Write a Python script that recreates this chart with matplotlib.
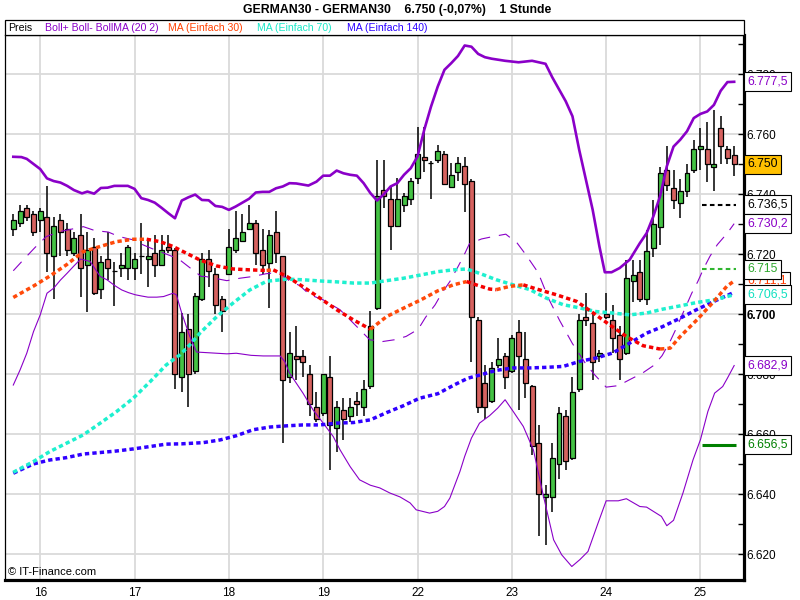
import numpy as np
import matplotlib
matplotlib.use("Agg")
import matplotlib.pyplot as plt
from matplotlib.patches import Rectangle
from matplotlib.transforms import blended_transform_factory

plt.rcParams['font.family'] = ['Liberation Sans', 'DejaVu Sans']

# hourly candles, bar 0 is the first one shown
opens = [6728.4, 6730.4, 6735.4, 6733.4, 6731.4, 6732.4, 6719.4, 6731.4, 6728.4, 6720.4,
         6726.4, 6716.4, 6722.4, 6708.4, 6718.4, 6714.5, 6715.4, 6715.4, 6715.4, 6719.4,
         6718.4, 6720.4, 6716.4, 6722.4, 6721.4, 6679.0, 6695.0, 6681.0, 6705.0, 6718.4,
         6713.4, 6705.1, 6713.4, 6721.4, 6724.4, 6728.4, 6730.4, 6721.4, 6717.2, 6727.4,
         6719.4, 6679.0, 6686.0, 6686.0, 6680.0, 6669.0, 6667.0, 6679.0, 6662.0, 6668.0,
         6666.0, 6671.0, 6669.0, 6676.0, 6702.0, 6741.4, 6738.4, 6729.4, 6736.4, 6738.4,
         6745.4, 6752.5, 6750.4, 6751.4, 6753.4, 6742.4, 6747.4, 6749.4, 6744.4, 6698.0,
         6677.0, 6671.0, 6683.0, 6686.0, 6681.0, 6694.0, 6685.0, 6676.0, 6657.0, 6639.0,
         6639.0, 6650.0, 6666.0, 6652.0, 6675.0, 6699.0, 6697.0, 6686.0, 6700.0, 6698.0,
         6693.0, 6687.0, 6711.0, 6714.0, 6705.0, 6722.0, 6729.0, 6748.0, 6742.0, 6737.0,
         6741.0, 6748.0, 6755.0, 6755.0, 6749.0, 6762.0, 6755.0, 6753.0]
highs = [6733.5, 6736.5, 6736.5, 6734.4, 6735.4, 6742.6, 6732.4, 6733.4, 6730.4, 6727.4,
         6733.4, 6727.4, 6725.4, 6719.4, 6727.4, 6717.4, 6720.4, 6723.0, 6720.4, 6730.4,
         6725.4, 6726.4, 6726.4, 6726.4, 6722.0, 6700.4, 6700.0, 6707.0, 6720.4, 6721.4,
         6715.4, 6706.0, 6728.4, 6734.4, 6733.4, 6736.4, 6731.4, 6728.4, 6728.0, 6734.5,
         6719.4, 6694.0, 6696.0, 6688.0, 6683.0, 6674.0, 6680.0, 6686.0, 6671.0, 6672.0,
         6672.0, 6674.0, 6678.0, 6701.0, 6751.5, 6751.5, 6742.6, 6745.4, 6740.5, 6745.4,
         6762.5, 6762.5, 6751.0, 6756.4, 6754.4, 6750.4, 6752.4, 6752.4, 6745.0, 6699.0,
         6683.0, 6684.0, 6692.0, 6687.0, 6693.0, 6698.0, 6694.0, 6676.5, 6663.0, 6643.0,
         6657.0, 6669.0, 6668.0, 6679.0, 6700.0, 6707.0, 6700.0, 6688.0, 6707.0, 6703.0,
         6696.0, 6718.0, 6718.0, 6718.0, 6728.0, 6738.0, 6749.0, 6756.0, 6748.0, 6745.0,
         6750.0, 6758.0, 6762.0, 6764.0, 6768.0, 6766.0, 6756.0, 6756.0]
lows = [6726.2, 6729.2, 6731.2, 6726.2, 6727.4, 6714.2, 6705.0, 6719.4, 6719.4, 6719.4,
        6705.9, 6700.9, 6706.5, 6705.0, 6711.4, 6702.9, 6712.4, 6711.4, 6711.4, 6713.4,
        6709.2, 6712.4, 6716.0, 6720.4, 6675.0, 6674.0, 6669.0, 6680.0, 6704.5, 6709.2,
        6700.0, 6694.0, 6713.0, 6720.4, 6724.0, 6728.0, 6716.4, 6713.4, 6702.0, 6717.2,
        6657.0, 6677.0, 6678.0, 6679.0, 6666.0, 6664.0, 6666.0, 6648.0, 6654.0, 6658.0,
        6664.0, 6666.0, 6666.0, 6675.0, 6701.5, 6735.4, 6721.4, 6729.0, 6734.2, 6736.4,
        6743.5, 6747.5, 6738.4, 6750.4, 6743.0, 6742.0, 6744.4, 6734.2, 6684.0, 6667.0,
        6665.0, 6670.5, 6682.0, 6675.0, 6680.5, 6668.0, 6672.0, 6653.0, 6626.0, 6623.0,
        6634.0, 6645.0, 6648.0, 6651.5, 6674.0, 6696.0, 6678.0, 6684.0, 6698.5, 6687.0,
        6678.0, 6686.5, 6704.0, 6704.0, 6703.0, 6719.0, 6723.0, 6741.0, 6735.0, 6732.0,
        6739.0, 6747.0, 6748.0, 6744.0, 6741.0, 6750.0, 6750.0, 6746.0]
closes = [6731.4, 6734.4, 6732.4, 6727.4, 6734.4, 6720.4, 6729.4, 6727.4, 6721.4, 6725.4,
          6715.4, 6721.4, 6707.0, 6717.4, 6715.4, 6714.5, 6716.4, 6722.4, 6718.4, 6719.4,
          6719.4, 6716.4, 6721.4, 6721.4, 6680.1, 6694.0, 6680.0, 6706.0, 6718.4, 6714.4,
          6703.0, 6701.0, 6722.4, 6725.4, 6727.4, 6730.4, 6720.4, 6716.4, 6726.5, 6720.4,
          6678.0, 6687.0, 6685.0, 6684.0, 6670.0, 6665.0, 6680.0, 6663.0, 6669.0, 6665.0,
          6669.0, 6670.0, 6675.0, 6696.0, 6739.5, 6739.5, 6729.4, 6738.4, 6739.5, 6744.4,
          6753.4, 6751.5, 6750.4, 6754.4, 6743.4, 6746.4, 6750.4, 6743.4, 6699.0, 6669.0,
          6669.0, 6682.0, 6685.0, 6679.0, 6692.0, 6686.0, 6677.0, 6656.0, 6640.0, 6640.0,
          6652.0, 6667.0, 6651.0, 6674.0, 6698.0, 6698.0, 6684.0, 6687.0, 6699.0, 6692.0,
          6685.0, 6712.0, 6713.0, 6705.0, 6721.0, 6730.0, 6747.0, 6743.0, 6738.0, 6741.0,
          6747.0, 6755.0, 6756.0, 6750.0, 6750.0, 6756.0, 6752.0, 6750.0]

# first bar of each day
day_start = [4, 18, 32, 46, 60, 74, 88, 102]
day_labels = ['16', '17', '18', '19', '22', '23', '24', '25']

# Bollinger bands (20, 2)
boll_up_x = [0, 1.2, 2, 3, 4, 5, 6, 7, 8, 9, 10.2, 11, 12, 13, 14, 15, 17, 18, 19, 20,
             21, 22, 23, 24, 25, 26, 27, 28, 29, 30, 31, 32, 33, 34, 35, 36, 37, 38, 39, 40,
             41, 42, 43.8, 45, 46, 47, 48, 49, 50, 51, 52, 53, 54, 55, 56, 57, 58, 59, 60, 61,
             62, 63, 64, 65, 66, 67, 68, 69, 70, 71, 73, 75, 77, 79, 80, 81, 82, 83, 84, 85,
             86, 87, 87.8, 88.8, 90, 91.5, 93, 94, 95, 96, 97, 98, 99, 100, 101, 102, 103, 104,
             105, 106, 107]
boll_up = [6752.5, 6752.4, 6751.8, 6750.1, 6748.4, 6745.3, 6744.4, 6743.9, 6742.8, 6741.4,
           6740.3, 6740.9, 6740.2, 6742.1, 6742.2, 6742.8, 6742.8, 6741.8, 6738.7, 6738.1,
           6737.2, 6735.5, 6733.7, 6732.0, 6737.9, 6739.0, 6739.9, 6738.1, 6738.0, 6736.1,
           6735.8, 6734.8, 6735.9, 6737.2, 6738.5, 6740.6, 6740.8, 6740.8, 6742.0, 6742.6,
           6743.7, 6743.6, 6742.9, 6744.2, 6746.2, 6746.2, 6747.9, 6747.0, 6746.5, 6746.2,
           6743.7, 6740.4, 6737.9, 6740.0, 6742.6, 6743.7, 6746.5, 6748.7, 6752.6, 6761.5,
           6769.2, 6775.9, 6781.5, 6783.7, 6786.1, 6789.6, 6789.2, 6786.8, 6785.7, 6785.2,
           6784.5, 6784.0, 6784.5, 6783.5, 6779.0, 6775.0, 6771.0, 6766.0, 6754.8, 6744.8,
           6734.8, 6722.6, 6714.0, 6714.0, 6715.4, 6718.2, 6723.7, 6727.0, 6732.6, 6739.3,
           6749.3, 6755.9, 6758.2, 6761.0, 6765.4, 6766.8, 6767.6, 6769.8, 6774.5, 6777.4,
           6777.5]
boll_lo_x = [0, 1, 2, 3, 4, 5, 6, 7, 8, 9, 10, 11.4, 12.9, 13.9, 15.1, 16.1, 17.1, 18.1, 19,
             20, 21.3, 22.3, 23.7, 24.2, 25, 26.2, 27.2, 28.7, 30.2, 31.7, 33.1, 35.3, 37.1,
             39.6, 40.3, 41, 43, 44.5, 46, 47.5, 48.5, 50, 51.4, 53, 54.4, 55.9, 57.4, 58.9,
             59.8, 61.8, 63, 64, 64.8, 66.3, 67, 68, 69.2, 70.7, 71.9, 73, 74.2, 75.7, 77.2,
             78.7, 80.2, 81.4, 82.9, 84.1, 85.3, 86.8, 88, 89.8, 91, 93, 94, 96.2, 97, 98,
             99.4, 100.9, 102, 103.1, 104.1, 105.3, 106, 107]
boll_lo = [6676.4, 6681.4, 6687.0, 6694.2, 6699.8, 6707.0, 6708.7, 6711.4, 6713.7, 6716.1,
           6718.4, 6717.6, 6712.6, 6711.5, 6709.5, 6708.1, 6707.2, 6706.5, 6706.1, 6705.7,
           6705.7, 6705.9, 6707.0, 6706.5, 6700.4, 6692.6, 6687.4, 6687.2, 6687.0, 6686.8,
           6687.0, 6686.3, 6686.1, 6686.1, 6684.2, 6680.4, 6673.7, 6668.1, 6663.7, 6659.2,
           6654.8, 6649.2, 6644.8, 6643.0, 6642.1, 6640.4, 6639.1, 6637.1, 6634.8, 6633.7,
           6634.3, 6635.9, 6638.7, 6647.6, 6652.6, 6658.7, 6663.7, 6666.2, 6668.7, 6671.5,
           6667.6, 6662.6, 6654.8, 6639.3, 6624.8, 6619.8, 6615.9, 6618.2, 6620.9, 6630.4,
           6637.8, 6637.8, 6638.5, 6635.9, 6635.7, 6632.6, 6629.5, 6631.3, 6640.4, 6651.5,
           6658.2, 6667.6, 6673.7, 6675.9, 6678.7, 6682.9]
boll_ma_x = [0, 1.6, 3.2, 4.9, 7, 10.4, 12.1, 14.1, 15.7, 17.8, 19.3, 21, 22.3, 24.5, 26.5,
             27.9, 28.5, 31.7, 33.6, 35.6, 37.5, 39.5, 41.1, 42.5, 44, 46, 48.5, 51.2, 52.9,
             54.8, 56.6, 58.3, 60.1, 61.2, 62.6, 63.6, 64.8, 65.9, 66.8, 67.7, 69.5, 71.2,
             73.1, 74.8, 76.1, 77.9, 79.5, 81.1, 83, 84.9, 86.3, 88, 89.8, 91.5, 93.4, 95.1,
             96.3, 97.5, 98.3, 100.7, 101.6, 102.5, 103.4, 104.5, 106, 107]
boll_ma = [6714.5, 6718.4, 6722.2, 6725.9, 6727.6, 6729.2, 6727.9, 6727.4, 6725.9, 6724.8,
           6723.1, 6721.5, 6720.4, 6718.5, 6715.0, 6712.6, 6712.6, 6711.2, 6712.0, 6712.6,
           6713.5, 6714.0, 6710.9, 6709.6, 6706.5, 6704.8, 6701.5, 6695.4, 6691.5, 6690.9,
           6691.5, 6692.6, 6695.0, 6699.0, 6703.1, 6707.0, 6710.9, 6715.4, 6719.2, 6723.5,
           6725.1, 6725.9, 6726.7, 6723.7, 6719.8, 6713.9, 6705.0, 6697.9, 6690.2, 6683.7,
           6679.8, 6675.7, 6676.2, 6678.2, 6680.4, 6683.0, 6686.2, 6691.0, 6694.8, 6707.0,
           6710.9, 6715.4, 6719.3, 6723.2, 6727.1, 6730.2]

# simple moving averages
ma30_x = [0, 3, 5.4, 7.9, 10.4, 12.9, 15.3, 17.8, 19.8, 21.8, 23.7, 25.2, 27.7, 30.2, 32.6,
          35.1, 37.6, 38.6, 40.6, 43, 45.5, 48, 50.5, 53, 55.4, 57.9, 60.5, 63, 65.3, 67.3,
          68.7, 70.7, 71.7, 73.7, 75.7, 77.7, 80.6, 83.6, 86.1, 88.5, 91, 93.5, 96, 97.5, 99,
          101.5, 104, 105.9, 107]
ma30 = [6705.6, 6709.4, 6712.7, 6716.5, 6720.9, 6722.6, 6724.2, 6725.0, 6725.0, 6724.2,
        6722.6, 6720.9, 6718.1, 6716.1, 6715.1, 6714.8, 6714.6, 6714.8, 6712.6, 6709.2,
        6705.4, 6701.5, 6698.1, 6695.0, 6699.2, 6702.0, 6704.8, 6707.8, 6709.8, 6710.9,
        6709.8, 6708.4, 6708.2, 6709.3, 6709.8, 6708.4, 6706.5, 6704.3, 6700.4, 6696.5,
        6692.6, 6689.5, 6688.4, 6688.7, 6692.6, 6698.2, 6704.3, 6709.3, 6711.1]
ma70_x = [0, 3, 5.4, 7.9, 10.4, 12.9, 15.3, 17.8, 20.3, 22.7, 24.7, 26.2, 27.7, 30.2, 32.6,
          35.1, 37.6, 40.6, 43, 45.5, 48, 50.5, 53, 55.4, 57.9, 60.5, 63, 65.3, 67.3, 69.5,
          71.7, 74.2, 76.7, 79.1, 81.6, 84.1, 86.5, 89, 91.5, 94, 96.4, 99, 101.4, 104, 107]
ma70 = [6647.3, 6650.9, 6654.2, 6657.0, 6659.8, 6663.7, 6667.5, 6672.0, 6677.5, 6683.1,
        6686.4, 6689.8, 6693.7, 6699.2, 6703.7, 6708.1, 6711.0, 6711.7, 6711.5, 6711.1,
        6710.8, 6710.4, 6710.4, 6711.2, 6712.0, 6713.1, 6714.2, 6714.8, 6715.1, 6713.4,
        6711.5, 6709.8, 6708.2, 6705.4, 6703.2, 6702.1, 6700.9, 6700.4, 6699.8, 6700.4,
        6701.7, 6702.8, 6703.9, 6704.8, 6706.5]
ma140_x = [0, 3, 5.4, 7.9, 10.4, 12.9, 15.3, 17.8, 20.3, 22.7, 25, 28.2, 30.7, 33.1, 35.6,
           38.1, 40.6, 43, 45.5, 48, 50.5, 53, 55.4, 57.9, 60.3, 63, 65.5, 67.5, 69.2, 71.7,
           74.2, 76.7, 79.1, 81.6, 84.1, 86.5, 89, 91.5, 94, 96.4, 99, 101.4, 104, 107]
ma140 = [6647.0, 6650.1, 6651.4, 6652.2, 6653.4, 6653.9, 6654.4, 6655.1, 6655.9, 6656.7,
         6656.8, 6657.2, 6658.1, 6659.5, 6661.5, 6662.4, 6662.8, 6663.1, 6663.1, 6663.7,
         6663.9, 6664.8, 6667.2, 6669.5, 6672.0, 6673.5, 6676.5, 6678.7, 6679.7, 6681.3,
         6682.1, 6682.1, 6682.3, 6682.6, 6684.3, 6685.4, 6687.1, 6690.4, 6693.7, 6695.9,
         6698.7, 6701.5, 6704.3, 6707.3]

# horizontal marker levels at the right end
level_black = 6736.5
level_green = 6715.0
level_dkgreen = 6656.5
last_close = 6750.0

PURPLE = '#8a00c8'
C_MA30_UP, C_MA30_DN = '#ff4a0a', '#f50000'
C_MA70 = '#1ef0cf'
C_MA140 = '#3000ff'


def de_num(v, dec):
    s = f"{v:,.{dec}f}"
    return s.replace(',', '#').replace('.', ',').replace('#', '.')


fig = plt.figure(figsize=(8, 6), dpi=100)
W, H = 800, 600
ax = fig.add_axes([5 / W, 20 / H, 739 / W, 545 / H])
ax.set_xlim(-1.23, 108.46)
ax.set_ylim(6611.4, 6793.1)

# grid
for g in range(6620, 6790, 20):
    ax.axhline(g, color='#dadada', lw=1.3, zorder=0)
for d in day_start:
    ax.axvline(d, color='#dadada', lw=1.3, zorder=0)

# candles
idx = np.arange(len(opens))
o = np.array(opens)
c = np.array(closes)
body_lo = np.minimum(o, c)
body_h = np.abs(c - o)
colors = ['#44c244' if cc > oo else ('#d6625f' if cc < oo else 'black')
          for oo, cc in zip(o, c)]
ax.vlines(idx, lows, highs, color='black', lw=1.1, zorder=2)
ax.bar(idx, body_h, 0.74, bottom=body_lo, color=colors, edgecolor='black',
       linewidth=0.9, zorder=3)

# bands
ax.plot(boll_up_x, boll_up, color=PURPLE, lw=1.9, zorder=5)
ax.plot(boll_lo_x, boll_lo, color=PURPLE, lw=0.8, zorder=5)
ax.plot(boll_ma_x, boll_ma, color=PURPLE, lw=0.8, dashes=(11, 8), zorder=5)

# moving averages (dotted)
dots = dict(lw=2.5, dashes=(1.25, 0.9), zorder=6)
ax.plot(ma140_x, ma140, color=C_MA140, **dots)
ax.plot(ma70_x, ma70, color=C_MA70, **dots)
# MA30 changes colour with its direction
start = 0
for k in range(1, len(ma30)):
    rising = ma30[k] >= ma30[k - 1]
    end_run = k == len(ma30) - 1 or ((ma30[k + 1] >= ma30[k]) != rising)
    if end_run:
        ax.plot(ma30_x[start:k + 1], ma30[start:k + 1],
                color=C_MA30_UP if rising else C_MA30_DN, **dots)
        start = k

# markers at the right edge
ax.hlines(level_black, 102.2, 107.2, color='black', lw=1.5, linestyles=(0, (2.2, 1.6)), zorder=6)
ax.hlines(level_green, 102.2, 107.2, color='#2fb52f', lw=1.5, linestyles=(0, (2.2, 1.6)), zorder=6)
ax.hlines(level_dkgreen, 102.2, 107.2, color='#008000', lw=2.2, zorder=6)

# axes styling
for s in ['left', 'top']:
    ax.spines[s].set_linewidth(0.9)
for s in ['right', 'bottom']:
    ax.spines[s].set_linewidth(2.3)
ax.yaxis.tick_right()
yt = list(range(6620, 6790, 20))
ax.set_yticks(yt)
ax.set_yticklabels([de_num(v, 0) for v in yt], fontsize=8.5)
ax.set_yticks(list(range(6630, 6800, 20)), minor=True)
ax.tick_params(axis='y', which='both', direction='in', length=4, width=1, pad=2)
for lbl in ax.get_yticklabels():
    if lbl.get_text() == '6.700':
        lbl.set_fontweight('bold')
ax.set_xticks(day_start)
ax.set_xticklabels(day_labels, fontsize=8.5)
ax.tick_params(axis='x', length=0, pad=5)

# value boxes on the right
tr = blended_transform_factory(ax.transAxes, ax.transData)
boxes = [
    (6777.5, de_num(6777.5, 1), PURPLE, 'white'),
    (last_close, de_num(last_close, 0), 'black', '#ffc000'),
    (level_black, de_num(level_black, 1), 'black', 'white'),
    (6730.2, de_num(6730.2, 1), PURPLE, 'white'),
    (6711.1, de_num(6711.1, 1), '#ff3a00', 'white'),
    (6706.5, de_num(6706.5, 1), '#10e0c0', 'white'),
    (level_green, de_num(level_green, 0), '#2fa82f', 'white'),
    (6682.9, de_num(6682.9, 1), PURPLE, 'white'),
    (level_dkgreen, de_num(level_dkgreen, 1), '#008000', 'white'),
]
for z, (val, txt, col, fc) in enumerate(boxes):
    ax.text(1.004, val, txt, transform=tr, ha='left', va='center', fontsize=8.8,
            color=col, zorder=10 + z, clip_on=False,
            bbox=dict(boxstyle='square,pad=0.28', fc=fc, ec='black', lw=0.8))

# legend strip above the plot
fig.patches.append(Rectangle((5 / W, 1 - 35 / H), 739 / W, 15 / H, transform=fig.transFigure,
                             fill=True, fc='white', ec='black', lw=0.9))
legend_items = [(8, 'Preis', 'black'), (45, 'Boll+ Boll- BollMA (20 2)', PURPLE),
                (168, 'MA (Einfach 30)', '#ff4000'), (257, 'MA (Einfach 70)', '#19e8c8'),
                (347, 'MA (Einfach 140)', '#2a00ff')]
for x, txt, col in legend_items:
    fig.text(x / W, 1 - 28 / H, txt, color=col, fontsize=7.6, va='center', ha='left')

fig.text(397 / W, 1 - 10 / H, 'GERMAN30 - GERMAN30    6.750 (-0,07%)    1 Stunde',
         ha='center', va='center', fontsize=8.8, fontweight='bold')
fig.text(8 / W, 1 - 572 / H, '\u00a9 IT-Finance.com', fontsize=8, va='center', ha='left')

fig.savefig('out.png', dpi=100)
